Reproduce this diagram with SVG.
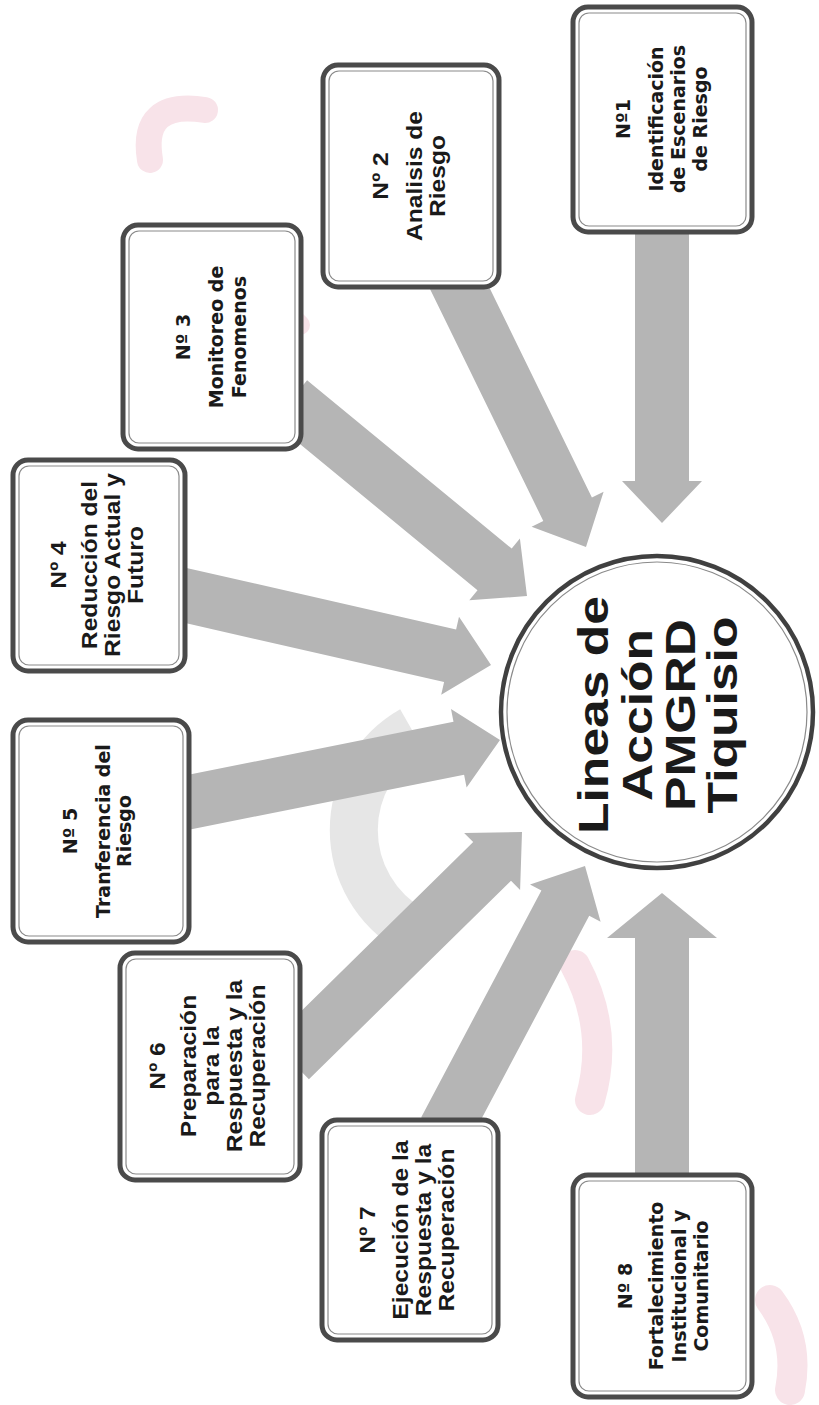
<svg xmlns="http://www.w3.org/2000/svg" width="819" height="1405" viewBox="0 0 819 1405">
<defs>
<style>
.bo{fill:#ffffff;stroke:#4a4a4a;stroke-width:5}
.bi{fill:none;stroke:#8a8a8a;stroke-width:1.2}
.ar{fill:#b5b5b5}
.dv{font-family:"DejaVu Sans",Verdana,sans-serif;font-weight:bold;font-size:19px;fill:#1a1a1a}
.lb{font-family:"Liberation Sans",Arial,sans-serif;font-weight:bold;font-size:22px;fill:#1a1a1a}
.wm{fill:none;stroke:#f8e3e9;stroke-linecap:round}
</style>
</defs>
<rect width="819" height="1405" fill="#ffffff"/>
<g id="watermark">
<path class="wm" d="M150,160 Q140,100 205,110" stroke-width="26"/>
<path class="wm" d="M275,300 L300,325" stroke-width="20"/>
<path d="M412,930 A115,115 0 0 1 412,730" fill="none" stroke="#e6e6e6" stroke-width="48"/>
<path class="wm" d="M575,965 Q610,1030 590,1100" stroke-width="30"/>
<path class="wm" d="M770,1300 Q800,1340 790,1390" stroke-width="30"/>
</g>
<g id="connectors">
<polygon class="ar" points="635,225 635,481 622,481 662,523 702,481 689,481 689,225"/>
<polygon class="ar" points="415.7,259.8 543.3,521 531.6,526.7 586,547 603.6,491.7 591.9,497.4 464.3,236.2"/>
<polygon class="ar" points="272.9,421.8 477.5,590.2 469.3,600.3 527,596 519.9,538.5 511.7,548.6 307.1,380.2"/>
<polygon class="ar" points="169,619.3 444.1,682 441.2,694.7 491,665 459,616.7 456.1,629.4 181,566.7"/>
<polygon class="ar" points="180.3,831.5 464.1,774.7 466.6,787.4 500,740 451,709 453.5,721.7 169.7,778.5"/>
<polygon class="ar" points="308.9,1079.3 511,880.7 520.1,889.9 522,832 464.1,832.9 473.2,842.1 271.1,1040.7"/>
<polygon class="ar" points="468.9,1142.6 589.2,915.7 600.6,921.8 585,866 530,884.4 541.4,890.5 421.1,1117.4"/>
<polygon class="ar" points="689,1185 689,938 717,938 662,893 607,938 635,938 635,1185"/>
</g>
<g id="center">
<circle cx="657" cy="712" r="156" fill="#ffffff" stroke="#404040" stroke-width="4.5"/>
<circle cx="657" cy="712" r="150" fill="none" stroke="#8a8a8a" stroke-width="1.2"/>
<text class="lb" style="font-size:43px" text-anchor="middle" transform="translate(0,715) rotate(-90) scale(1.2,1)"><tspan x="0" y="608">Lineas de</tspan><tspan x="0" y="652">Acción</tspan><tspan x="0" y="695">PMGRD</tspan><tspan x="0" y="737">Tiquisio</tspan></text>
</g>
<g id="n1">
<rect class="bo" x="573" y="7" width="179" height="225" rx="15"/>
<rect class="bi" x="579" y="13" width="167" height="213" rx="10"/>
<text class="dv" text-anchor="middle" transform="translate(0,119) rotate(-90)"><tspan x="0" y="630">Nº1</tspan><tspan x="0" y="663">Identificación</tspan><tspan x="0" y="685">de Escenarios</tspan><tspan x="0" y="707">de Riesgo</tspan></text>
</g>
<g id="n2">
<rect class="bo" x="323" y="65" width="176" height="222" rx="15"/>
<rect class="bi" x="329" y="71" width="164" height="210" rx="10"/>
<text class="lb" text-anchor="middle" transform="translate(0,176) rotate(-90) scale(1.12,1)"><tspan x="0" y="388">Nº 2</tspan><tspan x="0" y="422">Analisis de</tspan><tspan x="0" y="445">Riesgo</tspan></text>
</g>
<g id="n3">
<rect class="bo" x="123" y="225" width="178" height="224" rx="15"/>
<rect class="bi" x="129" y="231" width="166" height="212" rx="10"/>
<text class="dv" text-anchor="middle" transform="translate(0,337) rotate(-90)"><tspan x="0" y="190">Nº 3</tspan><tspan x="0" y="223">Monitoreo de</tspan><tspan x="0" y="246">Fenomenos</tspan></text>
</g>
<g id="n4">
<rect class="bo" x="13" y="460" width="172" height="211" rx="15"/>
<rect class="bi" x="19" y="466" width="160" height="199" rx="10"/>
<text class="lb" text-anchor="middle" transform="translate(0,565) rotate(-90) scale(1.12,1)"><tspan x="0" y="66">Nº 4</tspan><tspan x="0" y="97">Reducción del</tspan><tspan x="0" y="120">Riesgo Actual y</tspan><tspan x="0" y="143">Futuro</tspan></text>
</g>
<g id="n5">
<rect class="bo" x="13" y="720" width="176" height="222" rx="15"/>
<rect class="bi" x="19" y="726" width="164" height="210" rx="10"/>
<text class="dv" text-anchor="middle" transform="translate(0,831) rotate(-90)"><tspan x="0" y="77">Nº 5</tspan><tspan x="0" y="110">Tranferencia del</tspan><tspan x="0" y="131">Riesgo</tspan></text>
</g>
<g id="n6">
<rect class="bo" x="120" y="953" width="180" height="227" rx="15"/>
<rect class="bi" x="126" y="959" width="168" height="215" rx="10"/>
<text class="lb" text-anchor="middle" transform="translate(0,1066) rotate(-90) scale(1.12,1)"><tspan x="0" y="165">Nº 6</tspan><tspan x="0" y="196">Preparación</tspan><tspan x="0" y="219">para la</tspan><tspan x="0" y="242">Respuesta y la</tspan><tspan x="0" y="265">Recuperación</tspan></text>
</g>
<g id="n7">
<rect class="bo" x="322" y="1120" width="176" height="220" rx="15"/>
<rect class="bi" x="328" y="1126" width="164" height="208" rx="10"/>
<text class="lb" text-anchor="middle" transform="translate(0,1230) rotate(-90) scale(1.12,1)"><tspan x="0" y="375">Nº 7</tspan><tspan x="0" y="408">Ejecución de la</tspan><tspan x="0" y="431">Respuesta y la</tspan><tspan x="0" y="454">Recuperación</tspan></text>
</g>
<g id="n8">
<rect class="bo" x="573" y="1175" width="179" height="222" rx="15"/>
<rect class="bi" x="579" y="1181" width="167" height="210" rx="10"/>
<text class="dv" text-anchor="middle" transform="translate(0,1286) rotate(-90)"><tspan x="0" y="632">Nº 8</tspan><tspan x="0" y="663">Fortalecimiento</tspan><tspan x="0" y="686">Institucional y</tspan><tspan x="0" y="708">Comunitario</tspan></text>
</g>
</svg>
